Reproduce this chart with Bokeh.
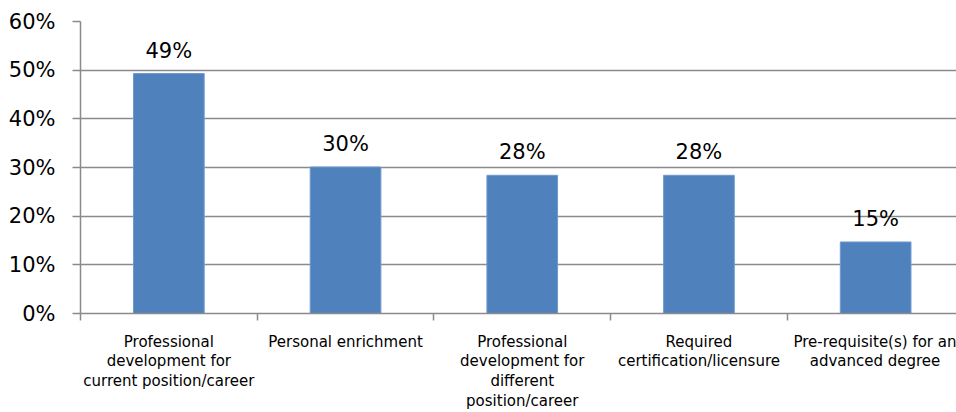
from bokeh.plotting import figure
from bokeh.models import FixedTicker, Range1d, ColumnDataSource
from bokeh.core.properties import value
from bokeh.embed import file_html
from bokeh.resources import INLINE

categories = [
    "Professional\ndevelopment for\ncurrent position/career",
    "Personal enrichment",
    "Professional\ndevelopment for\ndifferent\nposition/career",
    "Required\ncertification/licensure",
    "Pre-requisite(s) for an\nadvanced degree",
]
values = [49.3, 30.1, 28.4, 28.4, 14.7]
y_ticks = [0, 10, 20, 30, 40, 50, 60]
y_tick_labels = ["0%", "10%", "20%", "30%", "40%", "50%", "60%"]

idx = list(range(len(categories)))
labels = [f"{round(v)}%" for v in values]
src = ColumnDataSource(dict(x=idx, top=values, lab=labels))

FONT = "DejaVu Sans"
GRID = "#8a8a8a"

p = figure(width=956, height=412, output_backend="svg", toolbar_location=None,
           x_range=Range1d(-0.5, -0.5 + 876 / 176.7), y_range=Range1d(0, 60),
           min_border_left=80, min_border_right=0, min_border_top=21, min_border_bottom=99)
p.outline_line_color = None
p.background_fill_color = "white"
p.border_fill_color = "white"

p.vbar(x="x", top="top", width=0.4, source=src, fill_color="#4F81BD",
       line_color="#6F9AD0", line_width=1)
p.text(x="x", y="top", text="lab", source=src, y_offset=-11,
       text_align="center", text_baseline="bottom",
       text_font=value(FONT), text_font_size="21px", text_color="#000000")

# y axis
p.yaxis.ticker = FixedTicker(ticks=y_ticks)
p.yaxis.major_label_overrides = {t: l for t, l in zip(y_ticks, y_tick_labels)}
p.yaxis.axis_line_color = GRID
p.yaxis.axis_line_width = 1.5
p.yaxis.major_tick_line_color = GRID
p.yaxis.major_tick_line_width = 1.5
p.yaxis.major_tick_out = 8
p.yaxis.major_tick_in = 0
p.yaxis.minor_tick_line_color = None
p.yaxis.major_label_standoff = 17
p.yaxis.major_label_text_font = FONT
p.yaxis.major_label_text_font_size = "21px"
p.yaxis.major_label_text_color = "#000000"

# x axis
p.xaxis.ticker = FixedTicker(ticks=idx, minor_ticks=[i - 0.5 for i in idx] + [len(idx) - 0.5])
p.xaxis.major_label_overrides = {i: c for i, c in zip(idx, categories)}
p.xaxis.axis_line_color = GRID
p.xaxis.axis_line_width = 1.5
p.xaxis.major_tick_line_color = None
p.xaxis.major_tick_out = 0
p.xaxis.major_tick_in = 0
p.xaxis.minor_tick_line_color = GRID
p.xaxis.minor_tick_line_width = 1.5
p.xaxis.minor_tick_out = 7
p.xaxis.minor_tick_in = 0
p.xaxis.major_label_standoff = 12
p.xaxis.major_label_text_font = FONT
p.xaxis.major_label_text_font_size = "15px"
p.xaxis.major_label_text_line_height = 1.1
p.xaxis.major_label_text_color = "#000000"

p.xgrid.grid_line_color = None
p.ygrid.grid_line_color = GRID
p.ygrid.grid_line_width = 1.5

open("out.html", "w").write(file_html(p, INLINE))
